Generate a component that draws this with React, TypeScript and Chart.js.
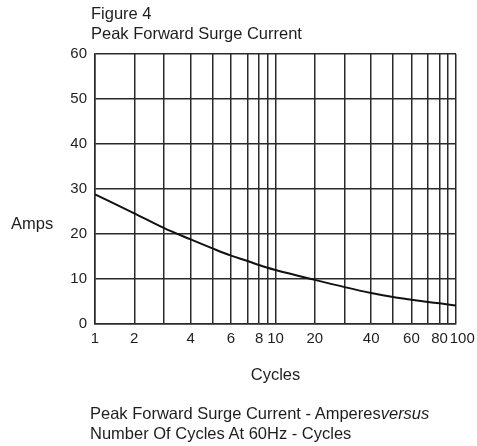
import React, { useEffect, useRef } from "react";
import { Chart, registerables, LogarithmicScale } from "chart.js";

// ---- data ----
const cycles = [1, 2, 3, 4, 5, 6, 7, 8, 9, 10, 20, 30, 40, 50, 60, 70, 80, 90, 100];
const amps = [28.8, 24.6, 21.3, 18.8, 16.8, 15.2, 14.0, 13.1, 12.5, 12.0, 9.8, 8.2, 6.9, 6.0, 5.4, 4.9, 4.6, 4.35, 4.1];
const xGridTicks = [1, 2, 3, 4, 5, 6, 7, 8, 9, 10, 20, 30, 40, 50, 60, 70, 80, 90, 100];
const xTickLabels = [1, 2, 4, 6, 8, 10, 20, 40, 60, 80, 100];
const yMin = 0;
const yMax = 60;
const yStep = 10;
const figureLabel = "Figure 4";
const chartTitle = "Peak Forward Surge Current";
const yTitle = "Amps";
const xTitle = "Cycles";
const captionStart = "Peak Forward Surge Current - Amperes";
const captionItalic = "versus";
const captionLine2 = "Number Of Cycles At 60Hz - Cycles";

// Axis ruling of the printed log paper: fraction of a decade at mantissa 1..10
// (the scanned figure's decades are not spaced as a true log10)
const decadeMantissas = [1, 2, 3, 4, 5, 6, 7, 8, 9, 10];
const decadeSpacing = [0, 0.2175, 0.383, 0.53, 0.651, 0.753, 0.845, 0.909, 0.956, 1];

function decadePos(v: number): number {
  const e = Math.floor(Math.log10(v) + 1e-9);
  const m = v / Math.pow(10, e);
  let i = 0;
  while (i < decadeMantissas.length - 2 && m > decadeMantissas[i + 1]) i++;
  const a = decadeMantissas[i];
  const b = decadeMantissas[i + 1];
  const t = (Math.log(m) - Math.log(a)) / (Math.log(b) - Math.log(a));
  return e + decadeSpacing[i] + t * (decadeSpacing[i + 1] - decadeSpacing[i]);
}

function decadeInv(p: number): number {
  const e = Math.floor(p);
  const f = p - e;
  let i = 0;
  while (i < decadeSpacing.length - 2 && f > decadeSpacing[i + 1]) i++;
  const a = decadeMantissas[i];
  const b = decadeMantissas[i + 1];
  const t = (f - decadeSpacing[i]) / (decadeSpacing[i + 1] - decadeSpacing[i]);
  return Math.pow(10, e) * Math.exp(Math.log(a) + t * (Math.log(b) - Math.log(a)));
}

class RuledLogScale extends (LogarithmicScale as any) {
  static id = "ruledLog";
  getPixelForValue(value: number) {
    if (value === undefined || value === 0) value = this.min;
    if (value === null || isNaN(value)) return NaN;
    const p0 = decadePos(this.min);
    const p1 = decadePos(this.max);
    return this.getPixelForDecimal((decadePos(value) - p0) / (p1 - p0));
  }
  getValueForPixel(pixel: number) {
    const p0 = decadePos(this.min);
    const p1 = decadePos(this.max);
    const d = this.getDecimalForPixel(pixel);
    return decadeInv(p0 + d * (p1 - p0));
  }
}

Chart.register(...registerables);
Chart.register(RuledLogScale as any);

const FONT = '"Liberation Sans", Arial, Helvetica, sans-serif';
const TEXT = "#1e1e1e";
const GRID = "#2a2a2a";

export default function App() {
  const canvasRef = useRef<HTMLCanvasElement | null>(null);

  useEffect(() => {
    const canvas = canvasRef.current;
    if (!canvas) return;
    const lastLabel = xTickLabels[xTickLabels.length - 1];
    const chart = new Chart(canvas, {
      type: "line",
      data: {
        datasets: [
          {
            data: cycles.map((c, i) => ({ x: c, y: amps[i] })),
            borderColor: "#111",
            borderWidth: 2,
            pointRadius: 0,
            fill: false,
            cubicInterpolationMode: "monotone",
          },
        ],
      },
      options: {
        responsive: false,
        maintainAspectRatio: false,
        animation: false,
        events: [],
        layout: { padding: { left: 0, right: 21, top: 54, bottom: 0 } },
        plugins: { legend: { display: false }, tooltip: { enabled: false }, title: { display: false } },
        scales: {
          x: {
            type: "ruledLog" as any,
            min: 1,
            max: 100,
            afterBuildTicks: (scale: any) => {
              scale.ticks = xGridTicks.map((v) => ({ value: v }));
            },
            afterFit: (scale: any) => {
              scale.height = 122;
              scale.paddingLeft = 0;
              scale.paddingRight = 0;
            },
            grid: { color: GRID, lineWidth: 1.5, drawTicks: false },
            border: { color: GRID, width: 1.5 },
            ticks: {
              autoSkip: false,
              maxRotation: 0,
              minRotation: 0,
              padding: 6,
              color: TEXT,
              font: { family: FONT, size: 15 },
              callback: (value: any) => {
                const v = Number(value);
                if (!xTickLabels.includes(v)) return "";
                return v === lastLabel ? "   " + String(v) : String(v);
              },
            },
            title: {
              display: true,
              text: xTitle,
              color: TEXT,
              font: { family: FONT, size: 16.5, lineHeight: 1 },
              padding: { top: 0, bottom: 62 },
            },
          } as any,
          y: {
            type: "linear",
            min: yMin,
            max: yMax,
            afterFit: (scale: any) => {
              scale.width = 95;
              scale.paddingTop = 0;
              scale.paddingBottom = 0;
            },
            grid: { color: GRID, lineWidth: 1.5, drawTicks: false },
            border: { color: GRID, width: 1.5 },
            ticks: {
              stepSize: yStep,
              padding: 8,
              color: TEXT,
              font: { family: FONT, size: 15 },
            },
          },
        },
      },
    });
    return () => chart.destroy();
  }, []);

  const textStyle: React.CSSProperties = {
    position: "absolute",
    fontFamily: FONT,
    fontSize: 16.5,
    lineHeight: "20px",
    color: TEXT,
    whiteSpace: "nowrap",
    margin: 0,
  };

  return (
    <div
      style={{
        position: "fixed",
        left: 0,
        top: 0,
        width: 477,
        height: 446,
        background: "#fff",
        overflow: "hidden",
      }}
    >
      <canvas ref={canvasRef} width={477} height={446} style={{ position: "absolute", left: 0, top: 0 }} />
      <div style={{ ...textStyle, left: 91, top: 3 }}>
        <div>{figureLabel}</div>
        <div>{chartTitle}</div>
      </div>
      <div style={{ ...textStyle, left: 11, top: 213 }}>{yTitle}</div>
      <div style={{ ...textStyle, left: 90, top: 403 }}>
        <div>
          {captionStart}
          <i>{captionItalic}</i>
        </div>
        <div>{captionLine2}</div>
      </div>
    </div>
  );
}
